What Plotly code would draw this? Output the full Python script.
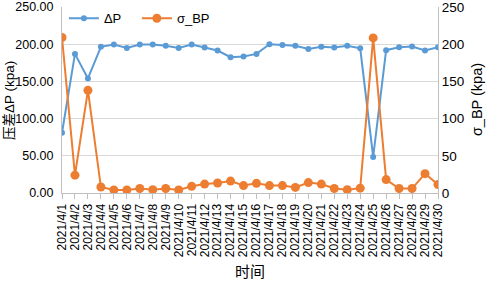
import plotly.graph_objects as go

dates = [f"2021/4/{d}" for d in range(1, 31)]
delta_p = [81, 187, 154, 196.5, 199.5, 195, 199.5, 199.5, 198, 195,
           199.5, 195.5, 191.5, 182.5, 183.5, 187, 200, 199, 198, 193.5,
           196.5, 195.5, 198, 194.5, 48.5, 192, 196, 197, 191.5, 196]
sigma_bp = [209, 24, 138, 8, 4, 4, 6, 4.5, 6, 4,
            9, 12, 13.5, 16, 10, 13, 10, 10, 7.5, 14,
            12, 6, 4.5, 6.5, 208.5, 18, 6, 6, 26, 11.5]
left_ticks = [0, 50, 100, 150, 200, 250]

BLUE = "#5B9BD5"
ORANGE = "#ED7D31"
FONT = "Liberation Sans, Noto Sans CJK SC, sans-serif"

fig = go.Figure()
fig.add_trace(go.Scatter(x=dates, y=delta_p, name="ΔP", mode="lines+markers",
                         line=dict(color=BLUE, width=2),
                         marker=dict(color=BLUE, size=6)))
fig.add_trace(go.Scatter(x=dates, y=sigma_bp, name="σ_BP", mode="lines+markers",
                         line=dict(color=ORANGE, width=2),
                         marker=dict(color=ORANGE, size=9),
                         yaxis="y2"))

fig.update_layout(
    width=486, height=283,
    margin=dict(l=62, r=48, t=7, b=90, autoexpand=False),
    paper_bgcolor="white", plot_bgcolor="white",
    font=dict(family=FONT, color="#000000"),
    showlegend=True,
    legend=dict(orientation="h", x=0.005, y=1.02, xanchor="left", yanchor="top",
                bgcolor="rgba(0,0,0,0)", font=dict(size=13),
                itemwidth=30, tracegroupgap=0,
                entrywidth=28, entrywidthmode="pixels"),
    xaxis=dict(type="category", range=[0, 29], tickangle=-90,
               tickmode="array", tickvals=dates, ticktext=dates,
               tickfont=dict(size=12), showgrid=False, automargin=False,
               showline=True, linecolor="#BFBFBF", linewidth=1,
               ticks="outside", ticklen=5, tickcolor="#BFBFBF",
               title=dict(text="时间", font=dict(size=15), standoff=10),
               zeroline=False),
    yaxis=dict(range=[0, 250.05], tickvals=left_ticks,
               ticktext=[f"{v:.2f}" for v in left_ticks],
               tickfont=dict(size=12.5), showgrid=True, gridcolor="#D9D9D9",
               showline=True, linecolor="#BFBFBF", linewidth=1,
               zeroline=False, ticks="", automargin=False,
               ticklabeloverflow="allow", ticklabelstandoff=5),
    yaxis2=dict(range=[0, 250.05], tickvals=left_ticks, overlaying="y", side="right",
                tickfont=dict(size=13.5), showgrid=False, automargin=False,
                showline=True, linecolor="#BFBFBF", linewidth=1,
                zeroline=False, ticks="", ticklabeloverflow="allow"),
    annotations=[
        dict(text="压差ΔP (kpa)", xref="paper", yref="paper",
             x=-0.141, y=0.5, textangle=-90, showarrow=False,
             font=dict(size=13.5), xanchor="center", yanchor="middle"),
        dict(text="σ_BP (kpa)", xref="paper", yref="paper",
             x=1.104, y=0.5, textangle=-90, showarrow=False,
             font=dict(size=14.5), xanchor="center", yanchor="middle"),
    ],
)

fig.write_html("out.html", config={"displayModeBar": False},
               post_script="document.body.style.margin='0';document.body.style.padding='0';document.documentElement.style.overflow='hidden';")
